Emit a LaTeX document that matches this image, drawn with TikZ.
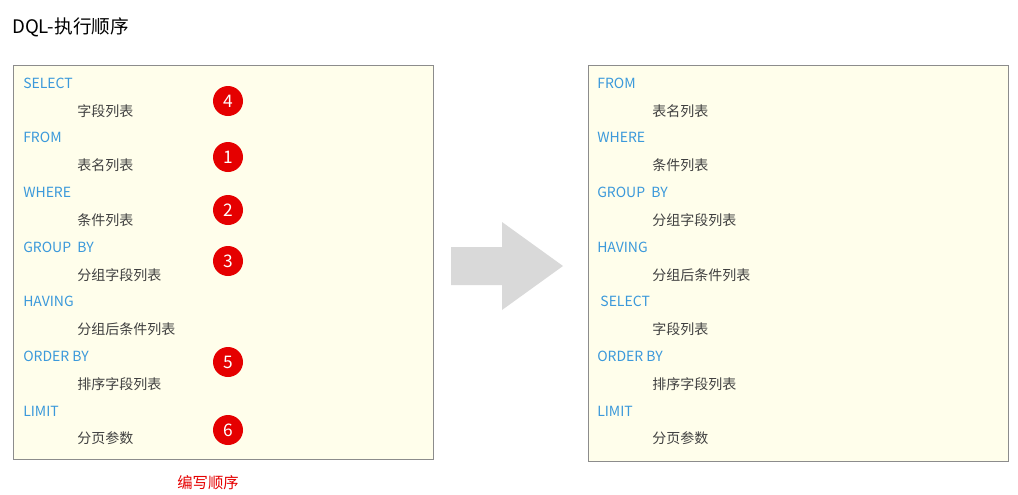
\documentclass[tikz,border=0pt]{standalone}
\usepackage{fontspec}
\setmainfont{Noto Sans CJK SC}
\begin{document}
\begin{tikzpicture}[x=0.75pt,y=-0.75pt,
  box/.style={draw=black!45,fill=yellow!8!white,line width=0.6pt},
  kw/.style={anchor=west,text=cyan!70!blue!80!white,font=\fontsize{10.5}{12}\selectfont,inner sep=0},
  val/.style={anchor=west,text=black!75,font=\fontsize{10.5}{12}\selectfont,inner sep=0},
  num/.style={circle,fill=red!90!black,text=white,minimum size=22.5pt,inner sep=0,font=\fontsize{13}{14}\selectfont}]
\useasboundingbox (0,0) rectangle (1018,494);
\node[anchor=west,inner sep=0,font=\fontsize{14}{16}\selectfont] (title) at (12,27) {DQL-执行顺序};
\draw[box] (13,65) rectangle (433,459);
\draw[box] (588,65) rectangle (1008,461);
\foreach \k/\v/\n [count=\i] in {SELECT/字段列表/a,FROM/表名列表/b,WHERE/条件列表/c,GROUP\ \ BY/分组字段列表/d,HAVING/分组后条件列表/e,ORDER BY/排序字段列表/f,LIMIT/分页参数/g}{
  \node[kw] (lk\i) at (23,{83+54.7*(\i-1)}) {\k};
  \node[val] (lv\i) at (77,{111+54.6*(\i-1)}) {\v};
}
\foreach \k/\v [count=\i] in {FROM/表名列表,WHERE/条件列表,GROUP\ \ BY/分组字段列表,HAVING/分组后条件列表,\ SELECT/字段列表,ORDER BY/排序字段列表,LIMIT/分页参数}{
  \node[kw] (rk\i) at (597,{83+54.7*(\i-1)}) {\k};
  \node[val] (rv\i) at (652,{111+54.6*(\i-1)}) {\v};
}
\node[num] (n4) at (228,101) {4};
\node[num] (n1) at (228,157) {1};
\node[num] (n2) at (228,210) {2};
\node[num] (n3) at (228,261) {3};
\node[num] (n5) at (228,362) {5};
\node[num] (n6) at (228,430) {6};
\node[text=red!90!black,font=\fontsize{11.5}{13}\selectfont] (cap) at (208,483) {编写顺序};
\fill[black!15] (451,247) -- (502,247) -- (502,222) -- (563,266) -- (502,310) -- (502,285) -- (451,285) -- cycle;
\end{tikzpicture}
\end{document}
